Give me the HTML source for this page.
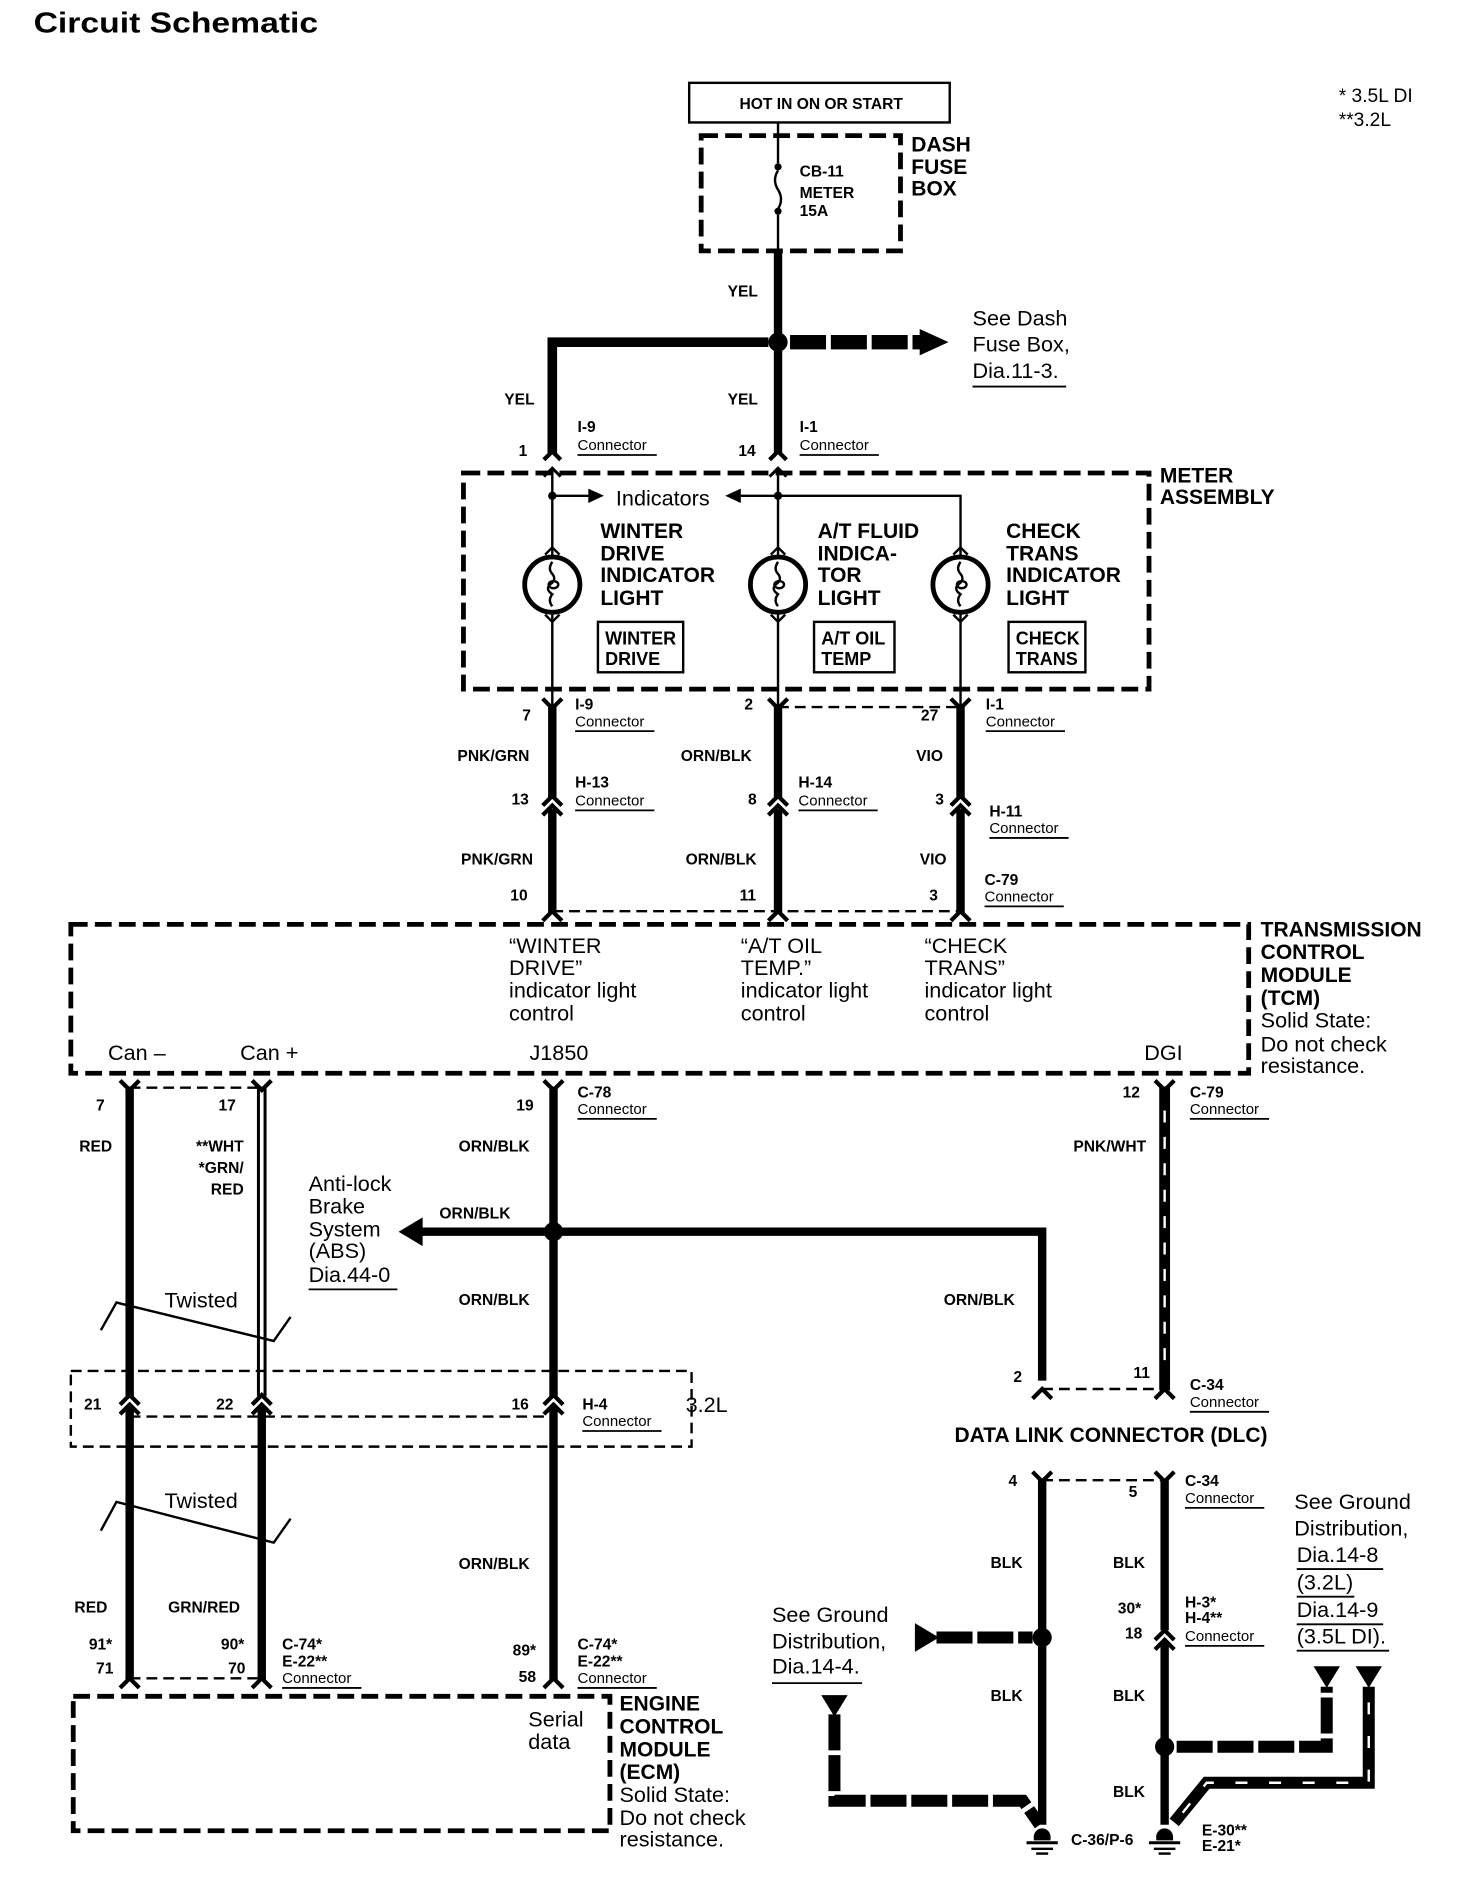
<!DOCTYPE html>
<html><head><meta charset="utf-8"><style>
html,body{margin:0;padding:0;background:#fff}
svg{display:block}
text{font-family:"Liberation Sans",sans-serif;fill:#000}
.b{font-weight:bold;font-size:13px}
.c{font-size:12.5px}
.L{font-size:18px}
.LB{font-size:17.5px;font-weight:bold}
.w{stroke:#000;stroke-width:7;fill:none}
.t{stroke:#000;stroke-width:2;fill:none}
.d{stroke:#000;stroke-width:4;fill:none;stroke-dasharray:14 6}
.dt{stroke:#000;stroke-width:2;fill:none;stroke-dasharray:9 5}
.ch{stroke:#000;stroke-width:3.5;fill:none}
.u{stroke:#000;stroke-width:1.5}
</style></head><body>
<svg width="1472" height="1886" viewBox="0 0 1226 1571" preserveAspectRatio="none" xmlns="http://www.w3.org/2000/svg">
<text x="28" y="27" style="font-size:24px;font-weight:bold" textLength="237" lengthAdjust="spacingAndGlyphs">Circuit Schematic</text>
<text x="1115" y="85" style="font-size:16px">* 3.5L DI</text>
<text x="1115" y="105" style="font-size:16px">**3.2L</text>

<!-- HOT box -->
<rect x="574" y="69" width="217" height="33" class="t"/>
<text x="684" y="91" class="b" text-anchor="middle">HOT IN ON OR START</text>
<rect x="584" y="113" width="166" height="96" class="d"/>
<line x1="648" y1="102" x2="648" y2="136" class="t"/>
<circle cx="648" cy="139" r="3"/>
<path d="M648 142 q-5 8 0 16 q5 8 0 16" class="t"/>
<circle cx="648" cy="176" r="3"/>
<line x1="648" y1="179" x2="648" y2="212" class="t"/>
<text x="666" y="147" class="b">CB-11</text>
<text x="666" y="165" class="b">METER</text>
<text x="666" y="180" class="b">15A</text>
<text x="759" y="126" class="LB">DASH</text>
<text x="759" y="145" class="LB">FUSE</text>
<text x="759" y="163" class="LB">BOX</text>

<line x1="648" y1="209" x2="648" y2="378" class="w"/>
<text x="606" y="247" class="b">YEL</text>
<path d="M460 378 L460 285 L640 285" class="w" style="stroke-width:8"/>
<line x1="658" y1="285" x2="768" y2="285" style="stroke:#000;stroke-width:12;stroke-dasharray:30 4"/>
<polygon points="766,274 790,285 766,296"/>
<circle cx="648" cy="285" r="8"/>
<text x="810" y="271" class="L">See Dash</text>
<text x="810" y="293" class="L">Fuse Box,</text>
<text x="810" y="315" class="L">Dia.11-3.</text>
<line x1="810" y1="322" x2="888" y2="322" class="u"/>
<text x="420" y="337" class="b">YEL</text>
<text x="606" y="337" class="b">YEL</text>
<text x="432" y="380" class="b">1</text>
<text x="615" y="380" class="b">14</text>
<text x="481" y="360" class="b">I-9</text><text x="481" y="375" class="c">Connector</text><line x1="481" y1="379" x2="547" y2="379" class="u"/>
<text x="666" y="360" class="b">I-1</text><text x="666" y="375" class="c">Connector</text><line x1="666" y1="379" x2="732" y2="379" class="u"/>
<path d="M453 383 L460 376 L467 383 M641 383 L648 376 L655 383" class="ch"/>

<!-- Meter assembly -->
<rect x="386" y="394" width="571" height="180" class="d"/>
<text x="966" y="402" class="LB">METER</text>
<text x="966" y="420" class="LB">ASSEMBLY</text>
<path d="M453 397 L460 390 L467 397 M641 397 L648 390 L655 397" class="ch" style="stroke-width:2.5"/>
<line x1="460" y1="390" x2="460" y2="590" class="t"/>
<line x1="648" y1="390" x2="648" y2="590" class="t"/>
<path d="M800 590 L800 413 L648 413" class="t"/>
<line x1="460" y1="413" x2="492" y2="413" class="t"/>
<polygon points="490,407 503,413 490,419"/>
<polygon points="617,407 604,413 617,419"/>
<line x1="617" y1="413" x2="648" y2="413" class="t"/>
<circle cx="460" cy="413" r="3.5"/><circle cx="648" cy="413" r="3.5"/>
<text x="513" y="421" class="L">Indicators</text>
<g id="bulb">
<circle cx="460" cy="487" r="23" fill="#fff" stroke="#000" stroke-width="4"/>
<path d="M460 468 q-4 6 0 10 q4 5 -2 9 q-4 4 2 8 q-4 5 0 10" class="t"/>
<ellipse cx="461" cy="487" rx="4" ry="3" class="t"/>
<path d="M454 462 L460 456 L466 462 M454 512 L460 518 L466 512" class="t"/>
</g>
<use href="#bulb" x="188"/>
<use href="#bulb" x="340"/>
<text x="500" y="448" class="LB">WINTER</text><text x="500" y="467" class="LB">DRIVE</text><text x="500" y="485" class="LB">INDICATOR</text><text x="500" y="504" class="LB">LIGHT</text>
<text x="681" y="448" class="LB">A/T  FLUID</text><text x="681" y="467" class="LB">INDICA-</text><text x="681" y="485" class="LB">TOR</text><text x="681" y="504" class="LB">LIGHT</text>
<text x="838" y="448" class="LB">CHECK</text><text x="838" y="467" class="LB">TRANS</text><text x="838" y="485" class="LB">INDICATOR</text><text x="838" y="504" class="LB">LIGHT</text>
<rect x="498" y="518" width="71" height="42" class="t"/>
<text x="504" y="537" class="b" style="font-size:15px">WINTER</text><text x="504" y="554" class="b" style="font-size:15px">DRIVE</text>
<rect x="678" y="518" width="67" height="42" class="t"/>
<text x="684" y="537" class="b" style="font-size:15px">A/T OIL</text><text x="684" y="554" class="b" style="font-size:15px">TEMP</text>
<rect x="840" y="518" width="64" height="42" class="t"/>
<text x="846" y="537" class="b" style="font-size:15px">CHECK</text><text x="846" y="554" class="b" style="font-size:15px">TRANS</text>

<!-- lower wires to TCM -->
<line x1="648" y1="589" x2="800" y2="589" class="dt"/>
<line x1="460" y1="759" x2="800" y2="759" class="dt"/>
<g>
<line x1="460" y1="588" x2="460" y2="664" class="w"/><line x1="460" y1="674" x2="460" y2="760" class="w"/>
<line x1="648" y1="588" x2="648" y2="664" class="w"/><line x1="648" y1="674" x2="648" y2="760" class="w"/>
<line x1="800" y1="588" x2="800" y2="664" class="w"/><line x1="800" y1="674" x2="800" y2="760" class="w"/>
</g>
<path d="M452 582 L460 590 L468 582 M640 582 L648 590 L656 582 M792 582 L800 590 L808 582" class="ch"/>
<path d="M452 671 L460 663 L468 671 M452 679 L460 671 L468 679 M640 671 L648 663 L656 671 M640 679 L648 671 L656 679 M792 671 L800 663 L808 671 M792 679 L800 671 L808 679" class="ch"/>
<path d="M452 767 L460 759 L468 767 M640 767 L648 759 L656 767 M792 767 L800 759 L808 767" class="ch"/>
<text x="435" y="600" class="b">7</text>
<text x="479" y="591" class="b">I-9</text><text x="479" y="605" class="c">Connector</text><line x1="479" y1="609" x2="545" y2="609" class="u"/>
<text x="620" y="591" class="b">2</text>
<text x="767" y="600" class="b">27</text>
<text x="821" y="591" class="b">I-1</text><text x="821" y="605" class="c">Connector</text><line x1="821" y1="609" x2="887" y2="609" class="u"/>
<text x="381" y="634" class="b">PNK/GRN</text>
<text x="567" y="634" class="b">ORN/BLK</text>
<text x="763" y="634" class="b">VIO</text>
<text x="426" y="670" class="b">13</text>
<text x="479" y="656" class="b">H-13</text><text x="479" y="671" class="c">Connector</text><line x1="479" y1="675" x2="545" y2="675" class="u"/>
<text x="623" y="670" class="b">8</text>
<text x="665" y="656" class="b">H-14</text><text x="665" y="671" class="c">Connector</text><line x1="665" y1="675" x2="731" y2="675" class="u"/>
<text x="779" y="670" class="b">3</text>
<text x="824" y="680" class="b">H-11</text><text x="824" y="694" class="c">Connector</text><line x1="824" y1="698" x2="890" y2="698" class="u"/>
<text x="384" y="720" class="b">PNK/GRN</text>
<text x="571" y="720" class="b">ORN/BLK</text>
<text x="766" y="720" class="b">VIO</text>
<text x="425" y="750" class="b">10</text>
<text x="616" y="750" class="b">11</text>
<text x="774" y="750" class="b">3</text>
<text x="820" y="737" class="b">C-79</text><text x="820" y="751" class="c">Connector</text><line x1="820" y1="755" x2="886" y2="755" class="u"/>

<!-- TCM -->
<rect x="59" y="770" width="981" height="124" class="d"/>
<text x="1050" y="780" class="LB">TRANSMISSION</text>
<text x="1050" y="799" class="LB">CONTROL</text>
<text x="1050" y="818" class="LB">MODULE</text>
<text x="1050" y="837" class="LB">(TCM)</text>
<text x="1050" y="856" class="L">Solid State:</text>
<text x="1050" y="876" class="L">Do not check</text>
<text x="1050" y="894" class="L">resistance.</text>
<text x="424" y="794" class="L">“WINTER</text><text x="424" y="812" class="L">DRIVE”</text><text x="424" y="831" class="L">indicator light</text><text x="424" y="850" class="L">control</text>
<text x="617" y="794" class="L">“A/T OIL</text><text x="617" y="812" class="L">TEMP.”</text><text x="617" y="831" class="L">indicator light</text><text x="617" y="850" class="L">control</text>
<text x="770" y="794" class="L">“CHECK</text><text x="770" y="812" class="L">TRANS”</text><text x="770" y="831" class="L">indicator light</text><text x="770" y="850" class="L">control</text>
<text x="90" y="883" class="L">Can –</text>
<text x="200" y="883" class="L">Can +</text>
<text x="441" y="883" class="L">J1850</text>
<text x="953" y="883" class="L">DGI</text>

<!-- below TCM -->
<line x1="108" y1="906" x2="218" y2="906" class="dt"/>
<line x1="108" y1="905" x2="108" y2="1163" class="w"/>
<line x1="108" y1="1172" x2="108" y2="1400" class="w"/>
<line x1="218" y1="905" x2="218" y2="1163" stroke="#000" stroke-width="8"/>
<line x1="218" y1="907" x2="218" y2="1163" stroke="#fff" stroke-width="3"/>
<line x1="218" y1="1172" x2="218" y2="1400" class="w"/>
<line x1="461" y1="905" x2="461" y2="1163" class="w"/>
<line x1="461" y1="1172" x2="461" y2="1400" class="w"/>
<line x1="970" y1="905" x2="970" y2="1158" stroke="#000" stroke-width="9"/>
<line x1="970" y1="925" x2="970" y2="1140" stroke="#fff" stroke-width="2" stroke-dasharray="10 12"/>
<path d="M100 900 L108 908 L116 900 M210 900 L218 908 L226 900 M453 900 L461 908 L469 900 M962 900 L970 908 L978 900" class="ch"/>
<text x="80" y="925" class="b">7</text>
<text x="182" y="925" class="b">17</text>
<text x="430" y="925" class="b">19</text>
<text x="481" y="914" class="b">C-78</text><text x="481" y="928" class="c">Connector</text><line x1="481" y1="932" x2="547" y2="932" class="u"/>
<text x="935" y="914" class="b">12</text>
<text x="991" y="914" class="b">C-79</text><text x="991" y="928" class="c">Connector</text><line x1="991" y1="932" x2="1057" y2="932" class="u"/>
<text x="66" y="959" class="b">RED</text>
<text x="203" y="959" class="b" text-anchor="end">**WHT</text>
<text x="203" y="977" class="b" text-anchor="end">*GRN/</text>
<text x="203" y="995" class="b" text-anchor="end">RED</text>
<text x="382" y="959" class="b">ORN/BLK</text>
<text x="894" y="959" class="b">PNK/WHT</text>
<text x="257" y="992" class="L">Anti-lock</text>
<text x="257" y="1011" class="L">Brake</text>
<text x="257" y="1030" class="L">System</text>
<text x="257" y="1048" class="L">(ABS)</text>
<text x="257" y="1068" class="L">Dia.44-0</text>
<line x1="257" y1="1074" x2="331" y2="1074" class="u"/>
<text x="366" y="1015" class="b">ORN/BLK</text>
<line x1="350" y1="1026" x2="461" y2="1026" class="w"/>
<polygon points="352,1014 332,1026 352,1038"/>
<path d="M461 1026 L868 1026 L868 1150" class="w"/>
<circle cx="461" cy="1026" r="8"/>
<text x="382" y="1087" class="b">ORN/BLK</text>
<text x="786" y="1087" class="b">ORN/BLK</text>
<text x="137" y="1089" class="L">Twisted</text>
<path d="M84 1108 L97 1085 L228 1117 L242 1097" class="t"/>
<text x="137" y="1256" class="L">Twisted</text>
<path d="M84 1275 L97 1251 L228 1285 L242 1265" class="t"/>
<!-- 3.2L box -->
<rect x="59" y="1142" width="517" height="63" class="dt"/>
<text x="571" y="1176" class="L">3.2L</text>
<line x1="108" y1="1180" x2="461" y2="1180" class="dt"/>
<path d="M100 1170 L108 1162 L116 1170 M100 1178 L108 1170 L116 1178 M210 1170 L218 1162 L226 1170 M210 1178 L218 1170 L226 1178 M453 1170 L461 1162 L469 1170 M453 1178 L461 1170 L469 1178" class="ch"/>
<text x="70" y="1174" class="b">21</text>
<text x="180" y="1174" class="b">22</text>
<text x="426" y="1174" class="b">16</text>
<text x="485" y="1174" class="b">H-4</text><text x="485" y="1188" class="c">Connector</text><line x1="485" y1="1192" x2="551" y2="1192" class="u"/>
<!-- DLC upper -->
<line x1="868" y1="1157" x2="970" y2="1157" class="dt"/>
<path d="M860 1165 L868 1157 L876 1165 M962 1165 L970 1157 L978 1165" class="ch"/>
<text x="844" y="1151" class="b">2</text>
<text x="944" y="1148" class="b">11</text>
<text x="991" y="1158" class="b">C-34</text><text x="991" y="1172" class="c">Connector</text><line x1="991" y1="1176" x2="1057" y2="1176" class="u"/>
<text x="795" y="1201" class="LB">DATA LINK CONNECTOR (DLC)</text>
<!-- DLC lower -->
<line x1="868" y1="1233" x2="970" y2="1233" class="dt"/>
<path d="M860 1226 L868 1234 L876 1226 M962 1226 L970 1234 L978 1226" class="ch"/>
<line x1="868" y1="1233" x2="868" y2="1520" class="w"/>
<line x1="970" y1="1233" x2="970" y2="1358" class="w"/>
<line x1="970" y1="1368" x2="970" y2="1520" class="w"/>
<path d="M962 1366 L970 1358 L978 1366 M962 1374 L970 1366 L978 1374" class="ch"/>
<text x="840" y="1238" class="b">4</text>
<text x="940" y="1247" class="b">5</text>
<text x="987" y="1238" class="b">C-34</text><text x="987" y="1252" class="c">Connector</text><line x1="987" y1="1256" x2="1053" y2="1256" class="u"/>
<text x="825" y="1306" class="b">BLK</text><text x="927" y="1306" class="b">BLK</text>
<text x="825" y="1417" class="b">BLK</text><text x="927" y="1417" class="b">BLK</text>
<text x="927" y="1497" class="b">BLK</text>
<text x="931" y="1344" class="b">30*</text>
<text x="937" y="1365" class="b">18</text>
<text x="987" y="1339" class="b">H-3*</text><text x="987" y="1352" class="b">H-4**</text><text x="987" y="1367" class="c">Connector</text><line x1="987" y1="1371" x2="1053" y2="1371" class="u"/>
<line x1="780" y1="1364" x2="860" y2="1364" style="stroke:#000;stroke-width:10;stroke-dasharray:30 4"/>
<polygon points="762,1352 782,1364 762,1376"/>
<circle cx="868" cy="1364" r="8"/>
<text x="643" y="1351" class="L">See Ground</text>
<text x="643" y="1373" class="L">Distribution,</text>
<text x="643" y="1394" class="L">Dia.14-4.</text>
<line x1="643" y1="1402" x2="718" y2="1402" class="u"/>
<polygon points="684,1412 706,1412 695,1430"/>
<path d="M695 1428 L695 1500 L852 1500 L866 1520" style="stroke:#000;stroke-width:10;fill:none;stroke-dasharray:30 4"/>
<circle cx="970" cy="1455" r="8"/>
<path d="M980 1455 L1105 1455 L1105 1405" style="stroke:#000;stroke-width:10;fill:none;stroke-dasharray:30 4"/>
<polygon points="1094,1388 1116,1388 1105,1406"/>
<path d="M978 1518 L1005 1485 L1140 1485 L1140 1405" stroke="#000" stroke-width="10" fill="none"/>
<path d="M985 1510 L1005 1485 L1140 1485 L1140 1405" stroke="#fff" stroke-width="2" fill="none" stroke-dasharray="10 18"/>
<polygon points="1129,1388 1151,1388 1140,1406"/>
<text x="1078" y="1257" class="L">See Ground</text>
<text x="1078" y="1279" class="L">Distribution,</text>
<text x="1080" y="1301" class="L">Dia.14-8</text><line x1="1080" y1="1307" x2="1152" y2="1307" class="u"/>
<text x="1080" y="1324" class="L">(3.2L)</text><line x1="1080" y1="1330" x2="1128" y2="1330" class="u"/>
<text x="1080" y="1347" class="L">Dia.14-9</text><line x1="1080" y1="1353" x2="1152" y2="1353" class="u"/>
<text x="1080" y="1369" class="L">(3.5L DI).</text><line x1="1080" y1="1375" x2="1157" y2="1375" class="u"/>
<!-- grounds -->
<g id="gnd">
<path d="M861 1530 a7 7 0 0 1 14 0 z"/>
<rect x="861" y="1529" width="14" height="4"/>
<line x1="855" y1="1535" x2="881" y2="1535" stroke="#000" stroke-width="2.5"/>
<line x1="859" y1="1540" x2="877" y2="1540" stroke="#000" stroke-width="2"/>
<line x1="863" y1="1544" x2="873" y2="1544" stroke="#000" stroke-width="2"/>
</g>
<use href="#gnd" x="102"/>
<text x="892" y="1537" class="b">C-36/P-6</text>
<text x="1001" y="1529" class="b">E-30**</text>
<text x="1001" y="1542" class="b">E-21*</text>

<!-- ECM -->
<line x1="108" y1="1398" x2="218" y2="1398" class="dt"/>
<path d="M100 1406 L108 1398 L116 1406 M210 1406 L218 1398 L226 1406 M453 1406 L461 1398 L469 1406" class="ch"/>
<rect x="61" y="1413" width="447" height="112" class="d"/>
<text x="440" y="1438" class="L">Serial</text>
<text x="440" y="1457" class="L">data</text>
<text x="516" y="1425" class="LB">ENGINE</text>
<text x="516" y="1444" class="LB">CONTROL</text>
<text x="516" y="1463" class="LB">MODULE</text>
<text x="516" y="1482" class="LB">(ECM)</text>
<text x="516" y="1501" class="L">Solid State:</text>
<text x="516" y="1520" class="L">Do not check</text>
<text x="516" y="1538" class="L">resistance.</text>
<text x="62" y="1343" class="b">RED</text>
<text x="140" y="1343" class="b">GRN/RED</text>
<text x="382" y="1307" class="b">ORN/BLK</text>
<text x="74" y="1374" class="b">91*</text>
<text x="80" y="1394" class="b">71</text>
<text x="184" y="1374" class="b">90*</text>
<text x="190" y="1394" class="b">70</text>
<text x="235" y="1374" class="b">C-74*</text><text x="235" y="1388" class="b">E-22**</text><text x="235" y="1402" class="c">Connector</text><line x1="235" y1="1406" x2="301" y2="1406" class="u"/>
<text x="427" y="1379" class="b">89*</text>
<text x="432" y="1401" class="b">58</text>
<text x="481" y="1374" class="b">C-74*</text><text x="481" y="1388" class="b">E-22**</text><text x="481" y="1402" class="c">Connector</text><line x1="481" y1="1406" x2="547" y2="1406" class="u"/>
</svg>
</body></html>
